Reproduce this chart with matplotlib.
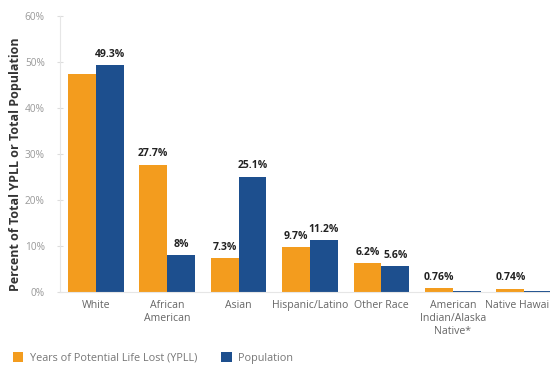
import matplotlib
matplotlib.use('Agg')
import matplotlib.pyplot as plt
import numpy as np

plt.rcParams['font.family'] = ['Open Sans', 'DejaVu Sans']

# data
categories = ['White', 'African\nAmerican', 'Asian', 'Hispanic/Latino', 'Other Race',
              'American\nIndian/Alaska\nNative*', 'Native Hawaiian']
ypll = [47.4, 27.7, 7.3, 9.7, 6.2, 0.76, 0.74]
population = [49.3, 8, 25.1, 11.2, 5.6, 0.3, 0.3]
ypll_labels = ['', '27.7%', '7.3%', '9.7%', '6.2%', '0.76%', '0.74%']
pop_labels = ['49.3%', '8%', '25.1%', '11.2%', '5.6%', '', '']
yticks = [0, 10, 20, 30, 40, 50, 60]

ORANGE = '#F39C1E'
BLUE = '#1D4F8E'

fig = plt.figure(figsize=(5.5, 3.69), dpi=100)
# axes runs a little past the right edge, as in the cropped original
ax = fig.add_axes([60/550, 0.2087, 500/550, 0.748])

x = np.arange(len(categories))
w = 0.39
b1 = ax.bar(x - w/2, ypll, w, color=ORANGE, label='Years of Potential Life Lost (YPLL)')
b2 = ax.bar(x + w/2, population, w, color=BLUE, label='Population')

for rect, lab in zip(b1, ypll_labels):
    if lab:
        ax.text(rect.get_x() + rect.get_width()/2, rect.get_height() + 1.2, lab,
                ha='center', va='bottom', fontsize=7.5, fontweight='bold', color='#222222')
for rect, lab in zip(b2, pop_labels):
    if lab:
        ax.text(rect.get_x() + rect.get_width()/2, rect.get_height() + 1.2, lab,
                ha='center', va='bottom', fontsize=7.5, fontweight='bold', color='#222222')

ax.set_xlim(-0.5, len(categories) - 0.5)
ax.set_ylim(0, 60)
ax.set_yticks(yticks)
ax.set_yticklabels(['{}%'.format(t) for t in yticks], fontsize=7.3, color='#999999')
ax.set_xticks(x)
ax.set_xticklabels(categories, fontsize=7.6, color='#666666', linespacing=1.2)
ax.tick_params(axis='x', length=0, pad=6)
ax.tick_params(axis='y', length=4, color='#dddddd', direction='inout', pad=9)

for s in ['top', 'right']:
    ax.spines[s].set_visible(False)
ax.spines['left'].set_color('#e6e6e6')
ax.spines['bottom'].set_color('#e6e6e6')

fig.text(16/550, 0.555, 'Percent of Total YPLL or Total Population', rotation=90,
         ha='center', va='center', fontsize=9, fontweight='bold', color='#333333')

fig.legend(handles=[b1, b2], loc='lower left', bbox_to_anchor=(0.005, -0.012), ncol=2,
           frameon=False, fontsize=7.8, labelcolor='#777777', handlelength=1.0,
           handleheight=1.0, columnspacing=2.2, handletextpad=0.6)

fig.savefig('out.png', dpi=100)
